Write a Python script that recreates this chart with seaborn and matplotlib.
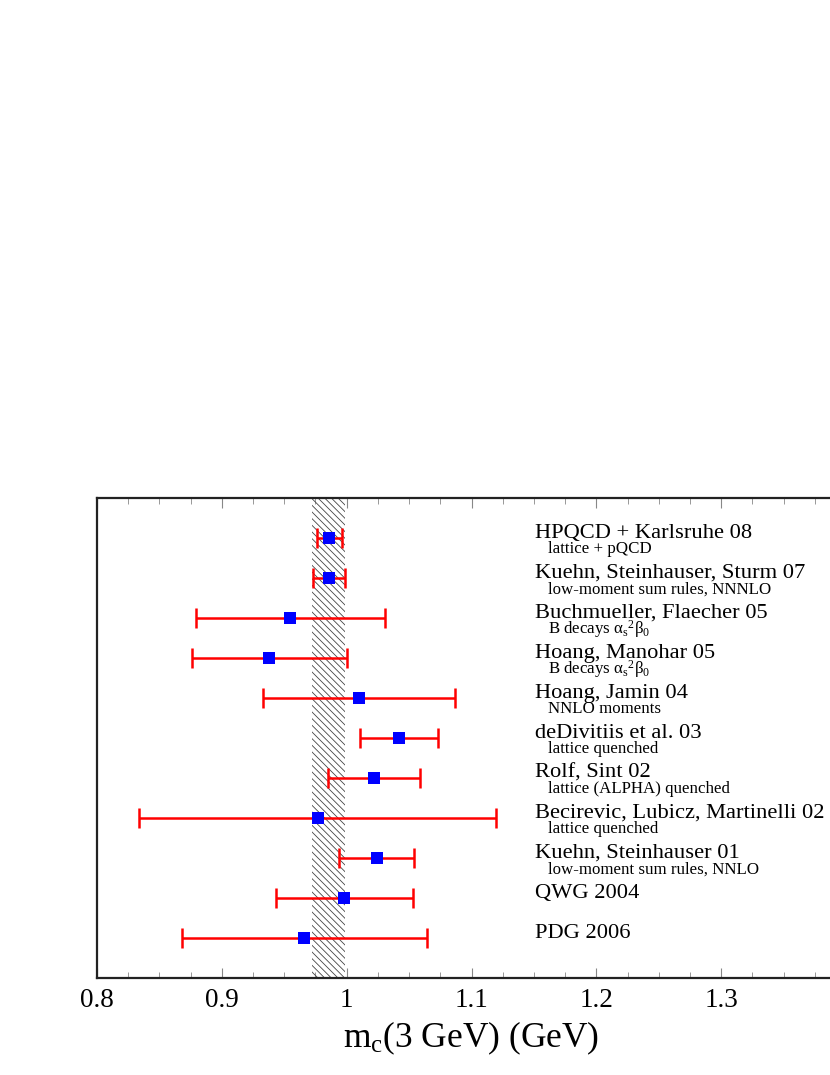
import matplotlib
matplotlib.use("Agg")
import matplotlib.pyplot as plt
import seaborn as sns
import pandas as pd
from matplotlib.ticker import MultipleLocator

# ---- data ----
labels = [
    "HPQCD + Karlsruhe 08",
    "Kuehn, Steinhauser, Sturm 07",
    "Buchmueller, Flaecher 05",
    "Hoang, Manohar 05",
    "Hoang, Jamin 04",
    "deDivitiis et al. 03",
    "Rolf, Sint 02",
    "Becirevic, Lubicz, Martinelli 02",
    "Kuehn, Steinhauser 01",
    "QWG 2004",
    "PDG 2006",
]
sublabels = [
    "lattice + pQCD",
    "low-moment sum rules, NNNLO",
    r"B decays $\mathrm{α}_\mathrm{s}{}^\mathrm{2}\mathrm{β}_\mathrm{0}$",
    r"B decays $\mathrm{α}_\mathrm{s}{}^\mathrm{2}\mathrm{β}_\mathrm{0}$",
    "NNLO moments",
    "lattice quenched",
    "lattice (ALPHA) quenched",
    "lattice quenched",
    "low-moment sum rules, NNLO",
    "",
    "",
]
values = [0.986, 0.986, 0.955, 0.938, 1.010, 1.042, 1.022, 0.977, 1.024, 0.998, 0.966]
errors = [0.010, 0.013, 0.076, 0.062, 0.077, 0.031, 0.037, 0.143, 0.030, 0.055, 0.098]
band = (0.972, 0.999)
xticks = [0.8, 0.9, 1.0, 1.1, 1.2, 1.3]
xticklabels = ["0.8", "0.9", "1", "1.1", "1.2", "1.3"]

df = pd.DataFrame({"label": labels, "value": values, "err": errors,
                   "row": list(range(1, len(labels) + 1))})

sns.set_theme(style="ticks")
plt.rcParams["font.family"] = ["Liberation Serif", "DejaVu Serif"]
plt.rcParams["mathtext.fontset"] = "custom"
plt.rcParams["mathtext.rm"] = "Liberation Serif"
plt.rcParams["mathtext.it"] = "Liberation Serif:italic"
plt.rcParams["hatch.linewidth"] = 0.6
plt.rcParams["text.color"] = "black"
plt.rcParams["axes.labelcolor"] = "black"
plt.rcParams["xtick.labelcolor"] = "black"

fig = plt.figure(figsize=(8.3, 10.75), dpi=100)
ax = fig.add_axes([97 / 830, 97 / 1075, (846 - 97) / 830, (978 - 497.5) / 1075])

# hatched band
ax.fill_betweenx([0, 12], band[0], band[1], facecolor="none",
                 edgecolor="#444444", hatch="\\\\\\\\\\", linewidth=0, zorder=1)

ax.errorbar(df["value"], df["row"], xerr=df["err"], fmt="none",
            ecolor="red", elinewidth=1.8, capsize=7.5, capthick=1.8, zorder=2)
sns.scatterplot(data=df, x="value", y="row", marker="s", s=72,
                color="blue", edgecolor="blue", linewidth=0, ax=ax, zorder=3)

for i, (lab, sub) in enumerate(zip(labels, sublabels)):
    r = i + 1
    ax.text(1.1505, r, lab, fontsize=16.2, va="baseline", ha="left", color="black")
    if sub:
        ax.text(1.161, r + 0.39, sub, fontsize=12.2, va="baseline", ha="left",
                color="black")

ax.set_xlim(0.8, 1.4)
ax.set_ylim(12, 0)
ax.set_xticks(xticks)
ax.set_xticklabels(xticklabels)
ax.xaxis.set_minor_locator(MultipleLocator(0.025))
ax.set_yticks([])
ax.set_ylabel("")
ax.set_xlabel(r"m$_\mathrm{c}$(3 GeV) (GeV)", fontsize=25.5, labelpad=5)
ax.tick_params(axis="x", which="major", direction="in", top=True, bottom=True,
               length=7, width=0.8, color="#888888", labelsize=19.5, pad=7,
               labelcolor="black")
ax.tick_params(axis="x", which="minor", direction="in", top=True, bottom=True,
               length=4, width=0.6, color="#888888")
for s in ax.spines.values():
    s.set_visible(True)
    s.set_linewidth(1.6)
    s.set_color("#222222")

fig.savefig("out.png", dpi=100)
